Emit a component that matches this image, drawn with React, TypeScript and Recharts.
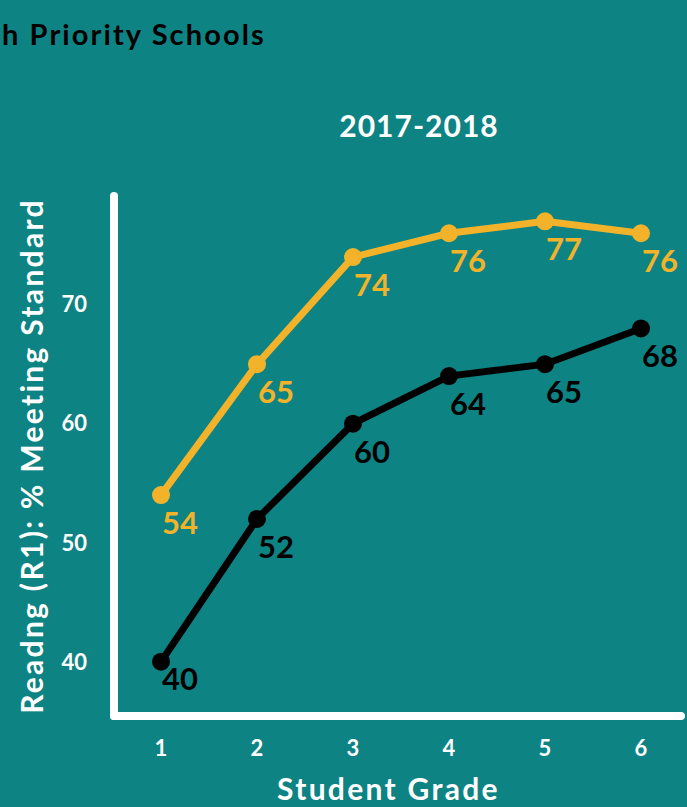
import React from "react";
import { LineChart, Line, XAxis, YAxis, LabelList } from "recharts";

const grades = ["1", "2", "3", "4", "5", "6"];
const districtValues = [54, 65, 74, 76, 77, 76];
const priorityValues = [40, 52, 60, 64, 65, 68];
const yTicks = [40, 50, 60, 70];

const TEAL = "#0E8383";
const GOLD = "#F2B32A";
const FONT = "Lato, 'Noto Sans', sans-serif";

const data = grades.map((g, i) => ({
  grade: g,
  district: districtValues[i],
  priority: priorityValues[i],
}));

const PLOT_BOTTOM = 716;

// value labels sit below-right of each point, kept clear of the x axis
const makeLabel = (color: string) => (props: any) => {
  const { x, y, value } = props;
  const baseline = Math.min(y + 39, PLOT_BOTTOM - 26);
  return (
    <text
      x={x + 1}
      y={baseline}
      fill={color}
      fontSize={31}
      fontWeight={700}
      fontFamily={FONT}
      textAnchor="start"
    >
      {value}
    </text>
  );
};

const axisLineStyle = { stroke: "#FFFFFF", strokeWidth: 8, strokeLinecap: "round" as const };
const tickStyle = { fill: "#FFFFFF", fontSize: 22, fontWeight: 700, fontFamily: FONT };

export default function App() {
  return (
    <div
      style={{
        position: "absolute",
        left: 0,
        top: 0,
        width: 687,
        height: 807,
        background: TEAL,
        fontFamily: FONT,
        overflow: "hidden",
      }}
    >
      <svg
        width={687}
        height={807}
        style={{ position: "absolute", left: 0, top: 0, pointerEvents: "none" }}
      >
        <text
          x={2}
          y={45}
          textAnchor="start"
          fill="#000"
          fontSize={29}
          fontWeight={700}
          fontFamily={FONT}
          style={{ letterSpacing: "2.1px" }}
        >
          h Priority Schools
        </text>
        <text
          x={419}
          y={137}
          textAnchor="middle"
          fill="#FFF"
          fontSize={30}
          fontWeight={700}
          fontFamily={FONT}
          style={{ letterSpacing: "1px" }}
        >
          2017-2018
        </text>
      </svg>
      <div style={{ position: "absolute", left: 0, top: 0 }}>
        <LineChart
          width={687}
          height={807}
          data={data}
          margin={{ top: 196, right: 6, bottom: 0, left: 0 }}
        >
          <XAxis
            dataKey="grade"
            type="category"
            padding={{ left: 47, right: 40 }}
            height={91}
            tickLine={false}
            tickSize={0}
            tickMargin={24}
            axisLine={axisLineStyle}
            tick={tickStyle}
            label={{
              value: "Student Grade",
              position: "insideBottom",
              offset: 7,
              dx: -9,
              fill: "#FFFFFF",
              fontSize: 30,
              fontWeight: 700,
              fontFamily: FONT,
              style: { letterSpacing: "2.3px" },
            }}
          />
          <YAxis
            type="number"
            domain={[35.44, 79.13]}
            ticks={yTicks}
            allowDataOverflow
            width={114}
            tickLine={false}
            tickSize={0}
            tickMargin={27}
            axisLine={axisLineStyle}
            tick={tickStyle}
            label={{
              value: "Readng (R1): % Meeting Standard",
              angle: -90,
              position: "insideLeft",
              offset: 32,
              style: { textAnchor: "middle", letterSpacing: "2.3px" },
              fill: "#FFFFFF",
              fontSize: 30,
              fontWeight: 700,
              fontFamily: FONT,
            }}
          />
          <Line
            dataKey="district"
            stroke={GOLD}
            strokeWidth={7}
            dot={{ r: 9, fill: GOLD, stroke: GOLD, strokeWidth: 0 }}
            activeDot={false}
            isAnimationActive={false}
          >
            <LabelList dataKey="district" content={makeLabel(GOLD)} />
          </Line>
          <Line
            dataKey="priority"
            stroke="#000000"
            strokeWidth={7}
            dot={{ r: 9, fill: "#000000", stroke: "#000000", strokeWidth: 0 }}
            activeDot={false}
            isAnimationActive={false}
          >
            <LabelList dataKey="priority" content={makeLabel("#000000")} />
          </Line>
        </LineChart>
      </div>
    </div>
  );
}
